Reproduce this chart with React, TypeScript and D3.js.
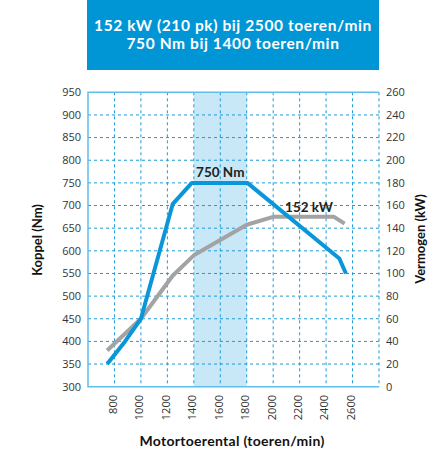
import React from 'react';
import * as d3 from 'd3';

// Koppel (Nm) per toerental
const torqueRpm = [745, 880, 1000, 1240, 1385, 1805, 2500, 2550];
const torqueNm = [350, 400, 450, 703, 750, 750, 583, 550];

// Vermogen (kW) per toerental
const powerRpm = [745, 1000, 1240, 1400, 1800, 2000, 2460, 2540];
const powerKw = [32, 60, 98, 116, 143, 150, 150, 144];

const rpmTicks = [800, 1000, 1200, 1400, 1600, 1800, 2000, 2200, 2400, 2600];
const nmTicks = d3.range(300, 951, 50);
const kwTicks = d3.range(0, 261, 20);
const bandRpm = [1400, 1800];

const titleLines = ['152 kW (210 pk) bij 2500 toeren/min', '750 Nm bij 1400 toeren/min'];

const W = 445;
const H = 452;
const left = 88;
const right = 379;
const top = 92.3;
const bottom = 386.7;

const blue = '#0a96d8';
const grid = '#1e9ad6';
const frame = '#5fbfea';
const grey = '#a3a3a3';
const txt = '#333';

export default function App() {
  const x = d3.scaleLinear().domain([600, 2800]).range([left, right]);
  const yNm = d3.scaleLinear().domain([300, 950]).range([bottom, top]);
  const yKw = d3.scaleLinear().domain([0, 260]).range([bottom, top]);

  const torque = torqueRpm.map((r, i) => [r, torqueNm[i]] as [number, number]);
  const power = powerRpm.map((r, i) => [r, powerKw[i]] as [number, number]);

  const torqueLine = d3.line<[number, number]>().x(d => x(d[0])).y(d => yNm(d[1]));
  const powerLine = d3.line<[number, number]>().x(d => x(d[0])).y(d => yKw(d[1]));

  const gridRpm = d3.range(800, 2801, 200);

  return (
    <svg width={W} height={H} style={{ position: 'absolute', left: 0, top: 0 }}>
      <rect x={0} y={0} width={W} height={H} fill="#fff" />
      {/* titelblok */}
      <rect x={87} y={0} width={292} height={70} fill="#0096d6" />
      {titleLines.map((t, i) => (
        <text key={t} x={233} y={31 + i * 18} textAnchor="middle" fill="#fff" letterSpacing={0.6}
          fontFamily="Lato, 'Open Sans', sans-serif" fontWeight="bold" fontSize={15.5}>{t}</text>
      ))}

      {/* band 1400-1800 */}
      <rect x={x(bandRpm[0])} y={top} width={x(bandRpm[1]) - x(bandRpm[0])} height={bottom - top} fill="#c8e8f8" />

      {/* raster */}
      {nmTicks.filter(v => v > 300 && v < 950).map(v => (
        <line key={'h' + v} x1={left} x2={right} y1={yNm(v)} y2={yNm(v)} stroke={grid} strokeWidth={1} strokeDasharray="3,3" />
      ))}
      {gridRpm.map(r => (
        <line key={'v' + r} x1={x(r)} x2={x(r)} y1={top} y2={bottom} stroke={grid} strokeWidth={1} strokeDasharray="3,3" />
      ))}

      {/* kader */}
      <path d={`M${right},${top}H${left}V${bottom}H${right}`} fill="none" stroke={frame} strokeWidth={1.5} />

      {/* lijnen */}
      <path d={powerLine(power) || ''} fill="none" stroke={grey} strokeWidth={4} strokeLinejoin="round" />
      <path d={torqueLine(torque) || ''} fill="none" stroke={blue} strokeWidth={4} strokeLinejoin="round" />

      <text x={x(1600)} y={177} textAnchor="middle" fill="#222" fontFamily="Lato, sans-serif" fontWeight="bold" fontSize={13.5}>750 Nm</text>
      <text x={309} y={212} textAnchor="middle" fill="#222" fontFamily="Lato, sans-serif" fontWeight="bold" fontSize={13.5}>152 kW</text>

      {/* as-labels links */}
      {nmTicks.map(v => (
        <text key={'nl' + v} x={81} y={yNm(v)} dy="0.35em" textAnchor="end" fill={txt}
          fontFamily="'Open Sans', sans-serif" fontSize={11}>{v}</text>
      ))}
      {/* as-labels rechts */}
      {kwTicks.map(v => (
        <text key={'kl' + v} x={386} y={yKw(v)} dy="0.35em" textAnchor="start" fill={txt}
          fontFamily="'Open Sans', sans-serif" fontSize={11}>{v}</text>
      ))}
      {/* as-labels onder */}
      {rpmTicks.map(r => (
        <text key={'rl' + r} transform={`translate(${x(r) - 1.5},395) rotate(-90)`} dy="0.35em" textAnchor="end" fill={txt}
          fontFamily="'Open Sans', sans-serif" fontSize={11}>{r}</text>
      ))}

      <text transform="translate(37,240) rotate(-90)" dy="0.35em" textAnchor="middle" fill="#111"
        fontFamily="Lato, sans-serif" fontWeight="bold" fontSize={13}>Koppel (Nm)</text>
      <text transform="translate(420,239) rotate(-90)" dy="0.35em" textAnchor="middle" fill="#111"
        fontFamily="Lato, sans-serif" fontWeight="bold" fontSize={13}>Vermogen (kW)</text>
      <text x={232} y={446} textAnchor="middle" fill="#111" letterSpacing={0.3}
        fontFamily="Lato, sans-serif" fontWeight="bold" fontSize={14}>Motortoerental (toeren/min)</text>
    </svg>
  );
}
